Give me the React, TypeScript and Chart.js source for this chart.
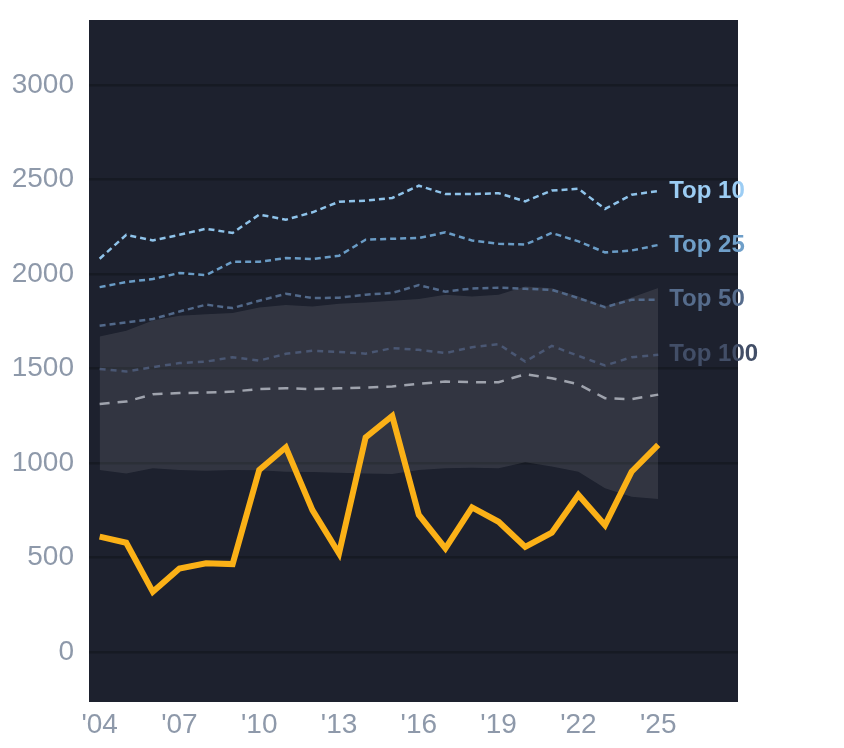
import { useEffect, useRef } from "react"
import { Chart, registerables } from "chart.js"
import type { Plugin } from "chart.js"

Chart.register(...registerables)

// Seasons 2004 - 2025
const years = [2004, 2005, 2006, 2007, 2008, 2009, 2010, 2011, 2012, 2013, 2014, 2015, 2016, 2017, 2018, 2019, 2020, 2021, 2022, 2023, 2024, 2025]

const top10 = [2081, 2208, 2178, 2208, 2240, 2218, 2315, 2288, 2327, 2383, 2389, 2403, 2468, 2424, 2424, 2428, 2385, 2442, 2452, 2345, 2420, 2440]
const top25 = [1931, 1958, 1974, 2006, 1995, 2065, 2065, 2085, 2080, 2097, 2182, 2187, 2191, 2221, 2178, 2161, 2156, 2218, 2173, 2115, 2125, 2154]
const top50 = [1726, 1744, 1762, 1802, 1838, 1820, 1859, 1896, 1873, 1875, 1891, 1900, 1942, 1907, 1924, 1928, 1922, 1917, 1873, 1825, 1864, 1864]
const top100 = [1498, 1484, 1507, 1529, 1537, 1560, 1542, 1578, 1594, 1588, 1579, 1608, 1599, 1582, 1613, 1629, 1537, 1620, 1567, 1516, 1560, 1573]
const median = [1313, 1325, 1364, 1370, 1373, 1378, 1392, 1396, 1391, 1396, 1399, 1405, 1419, 1431, 1428, 1428, 1470, 1449, 1417, 1343, 1338, 1362]
const bandHigh = [1670, 1700, 1754, 1779, 1788, 1794, 1823, 1836, 1829, 1843, 1850, 1859, 1868, 1891, 1882, 1891, 1935, 1925, 1882, 1829, 1876, 1927]
const bandLow = [963, 945, 972, 963, 959, 963, 962, 954, 952, 949, 945, 942, 963, 972, 975, 972, 1004, 981, 954, 866, 822, 809]
const player = [610, 578, 318, 442, 469, 465, 963, 1083, 751, 521, 1136, 1249, 725, 548, 765, 689, 556, 631, 831, 671, 954, 1096]

const tickYears = [2004, 2007, 2010, 2013, 2016, 2019, 2022, 2025]
const tickLabels = ["'04", "'07", "'10", "'13", "'16", "'19", "'22", "'25"]
const yTicks = [0, 500, 1000, 1500, 2000, 2500, 3000]

const FONT = "'Liberation Sans', Arial, Helvetica, sans-serif"

const toPoints = (values: number[]) => values.map((v, i) => ({ x: years[i], y: v }))

// dark plot background
const backgroundPlugin: Plugin = {
  id: "plotBackground",
  beforeDraw(chart) {
    const { ctx, chartArea } = chart
    ctx.save()
    ctx.fillStyle = "#1d212e"
    ctx.fillRect(chartArea.left, chartArea.top, chartArea.right - chartArea.left, chartArea.bottom - chartArea.top)
    ctx.restore()
  },
}

// "Top N" labels at the end of each line
const endLabelPlugin: Plugin = {
  id: "endLabels",
  afterDatasetsDraw(chart) {
    const { ctx } = chart
    ctx.save()
    ctx.font = `bold 24px ${FONT}`
    ctx.textAlign = "left"
    ctx.textBaseline = "middle"
    chart.data.datasets.forEach((ds: any, i) => {
      if (!ds.endLabel) return
      const meta = chart.getDatasetMeta(i)
      const last = meta.data[meta.data.length - 1]
      if (!last) return
      ctx.fillStyle = ds.endLabelColor
      ctx.fillText(ds.endLabel, last.x + 11, last.y)
    })
    ctx.restore()
  },
}

export default function App() {
  const chartRef = useRef<HTMLCanvasElement>(null)
  const chartInstance = useRef<Chart | null>(null)

  useEffect(() => {
    if (!chartRef.current) return
    if (chartInstance.current) chartInstance.current.destroy()

    const ctx = chartRef.current.getContext("2d")
    if (!ctx) return

    const dashed = (label: string, values: number[], color: string, labelColor: string, dash: number[], width: number) => ({
      label,
      data: toPoints(values),
      borderColor: color,
      borderWidth: width,
      borderDash: dash,
      pointRadius: 0,
      fill: false,
      tension: 0,
      order: 1,
      endLabel: label,
      endLabelColor: labelColor,
    })

    chartInstance.current = new Chart(ctx, {
      type: "line",
      data: {
        datasets: [
          {
            label: "Player",
            data: toPoints(player),
            borderColor: "#fbb117",
            borderWidth: 6,
            pointRadius: 0,
            fill: false,
            tension: 0,
            order: 0,
          },
          dashed("Top 10", top10, "#8fc3ea", "#9ccdf4", [6, 4], 2.5),
          dashed("Top 25", top25, "#6a9cc6", "#6f9fc9", [6, 4], 2.5),
          dashed("Top 50", top50, "#52698a", "#566c8c", [6, 4], 2.5),
          dashed("Top 100", top100, "#4a5773", "#424e67", [6, 5], 2.5),
          {
            label: "Median",
            data: toPoints(median),
            borderColor: "#9fa3ad",
            borderWidth: 2.5,
            borderDash: [10, 8],
            pointRadius: 0,
            fill: false,
            tension: 0,
            order: 2,
          },
          {
            label: "Range low",
            data: toPoints(bandLow),
            borderWidth: 0,
            borderColor: "transparent",
            pointRadius: 0,
            fill: false,
            tension: 0,
            order: 5,
          },
          {
            label: "Range high",
            data: toPoints(bandHigh),
            borderWidth: 0,
            borderColor: "transparent",
            backgroundColor: "rgba(255, 255, 255, 0.095)",
            pointRadius: 0,
            fill: "-1",
            tension: 0,
            order: 5,
          },
        ] as any,
      },
      options: {
        animation: false,
        responsive: true,
        maintainAspectRatio: false,
        layout: {
          padding: { top: 12, right: 98, bottom: 0, left: 0 },
        },
        plugins: {
          legend: { display: false },
          tooltip: { enabled: false },
        },
        scales: {
          x: {
            type: "linear",
            min: 2003.6,
            max: 2028,
            afterBuildTicks: (scale) => {
              scale.ticks = tickYears.map((v) => ({ value: v }))
            },
            afterFit: (scale) => {
              scale.height = 38
              scale.paddingLeft = 0
              scale.paddingRight = 0
            },
            grid: { display: false, drawTicks: false },
            border: { display: false },
            ticks: {
              autoSkip: false,
              maxRotation: 0,
              padding: 6,
              color: "#8e99aa",
              font: { family: FONT, size: 28 },
              callback: (value) => tickLabels[tickYears.indexOf(Number(value))] ?? "",
            },
          },
          y: {
            type: "linear",
            min: -265,
            max: 3345,
            afterBuildTicks: (scale) => {
              scale.ticks = yTicks.map((v) => ({ value: v }))
            },
            afterFit: (scale) => {
              scale.width = 81
              scale.paddingTop = 0
              scale.paddingBottom = 0
            },
            grid: { color: "#161a23", lineWidth: 2.5, drawTicks: false },
            border: { display: false },
            ticks: {
              padding: 15,
              color: "#8e99aa",
              font: { family: FONT, size: 28 },
              callback: (value) => String(value),
            },
          },
        },
      },
      plugins: [backgroundPlugin, endLabelPlugin],
    })

    return () => {
      if (chartInstance.current) {
        chartInstance.current.destroy()
        chartInstance.current = null
      }
    }
  }, [])

  return (
    <div style={{ width: 828, height: 732 }}>
      <canvas ref={chartRef} aria-label="Season rating chart"></canvas>
    </div>
  )
}
